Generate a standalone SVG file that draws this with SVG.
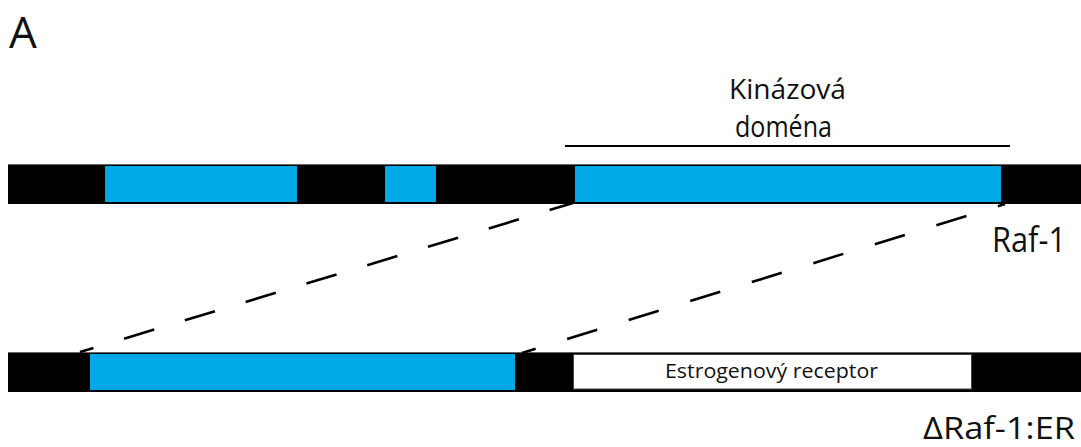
<svg xmlns="http://www.w3.org/2000/svg" width="1081" height="447" viewBox="0 0 1081 447">
  <style>
    .bar { fill: #000000; }
    .dom { fill: #00A9E6; }
    .er { fill: #ffffff; stroke: #444444; stroke-width: 1; }
    .lbl { font-family: "Open Sans", "Noto Sans", sans-serif; fill: #111111; }
    .dash { fill: none; stroke: #000000; stroke-width: 2.6; stroke-linecap: butt; }
  </style>

  <!-- panel letter -->
  <text class="lbl" x="9" y="48" font-size="44">A</text>

  <!-- kinase domain bracket -->
  <g id="kinase-label">
    <text class="lbl" x="729" y="99" font-size="28" textLength="117" lengthAdjust="spacingAndGlyphs">Kinázová</text>
    <text class="lbl" x="735" y="137" font-size="29" textLength="97" lengthAdjust="spacingAndGlyphs">doména</text>
    <line x1="565" y1="146" x2="1010" y2="146" stroke="#000" stroke-width="2"/>
  </g>

  <!-- full-length Raf-1 -->
  <g id="raf1">
    <rect class="bar" x="8" y="164" width="1073" height="40"/>
    <line x1="8" y1="164.5" x2="1081" y2="164.5" stroke="#666" stroke-width="1"/>
    <rect class="dom" x="105" y="166" width="192" height="36"/>
    <rect class="dom" x="385" y="166" width="51" height="36"/>
    <rect class="dom" x="575" y="166" width="426" height="36"/>
    <text class="lbl" x="992" y="252" font-size="34" textLength="74" lengthAdjust="spacingAndGlyphs">Raf-1</text>
  </g>

  <!-- truncated Raf-1 fused to the estrogen receptor -->
  <g id="raf1-er">
    <rect class="bar" x="8" y="352" width="1073" height="40"/>
    <line x1="8" y1="352.5" x2="1081" y2="352.5" stroke="#666" stroke-width="1"/>
    <rect class="dom" x="90" y="354" width="425" height="36"/>
    <rect class="er" x="573.5" y="354.5" width="398" height="34.5"/>
    <text class="lbl" x="665" y="378" font-size="20" textLength="213" lengthAdjust="spacingAndGlyphs">Estrogenový receptor</text>
    <text class="lbl" x="923" y="439" font-size="31" textLength="152" lengthAdjust="spacingAndGlyphs">ΔRaf-1:ER</text>
  </g>

  <!-- mapping of the kinase domain between the two constructs -->
  <g id="connectors">
    <line class="dash" x1="573" y1="203" x2="80" y2="352" stroke-dasharray="31.5 32" stroke-dashoffset="7"/>
    <line class="dash" x1="1005" y1="204" x2="522" y2="353" stroke-dasharray="31.4 33" stroke-dashoffset="24"/>
  </g>
</svg>
